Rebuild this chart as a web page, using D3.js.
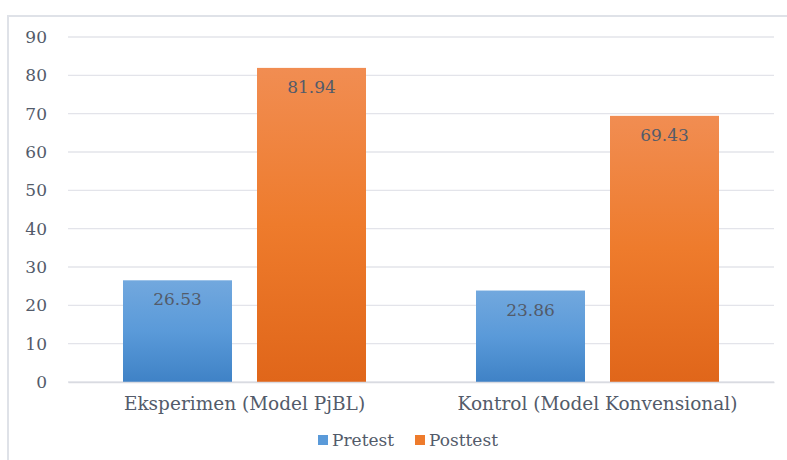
<!DOCTYPE html>
<html>
<head>
<meta charset="utf-8">
<script src="https://cdn.jsdelivr.net/npm/d3@7"></script>
<style>
  body { margin: 0; background: #fff; }
  text { font-family: "DejaVu Serif", serif; fill: #535b6a; }
</style>
</head>
<body>
<div id="chart"></div>
<script>
var categories = ["Eksperimen (Model PjBL)", "Kontrol (Model Konvensional)"];
var seriesNames = ["Pretest", "Posttest"];
var pretest = [26.53, 23.86];
var posttest = [81.94, 69.43];
var yTicks = [0, 10, 20, 30, 40, 50, 60, 70, 80, 90];

var svgWidth = 787, svgHeight = 460;
var margin = { top: 37, right: 13, bottom: 78, left: 68 };
var width = svgWidth - margin.left - margin.right;
var height = svgHeight - margin.top - margin.bottom;

var svg = d3.select("#chart").append("svg")
    .attr("width", svgWidth)
    .attr("height", svgHeight);

// gradients for the bars
var defs = svg.append("defs");
var gradColors = {
    Pretest: ["#72a8de", "#5a9ad9", "#3f82c6"],
    Posttest: ["#f18d52", "#ee7b2c", "#e0661a"]
};
seriesNames.forEach(function(s) {
    var g = defs.append("linearGradient")
        .attr("id", "grad" + s)
        .attr("x1", 0).attr("y1", 0).attr("x2", 0).attr("y2", 1);
    g.append("stop").attr("offset", "0%").attr("stop-color", gradColors[s][0]);
    g.append("stop").attr("offset", "50%").attr("stop-color", gradColors[s][1]);
    g.append("stop").attr("offset", "100%").attr("stop-color", gradColors[s][2]);
});

// frame
svg.append("rect")
    .attr("x", 8).attr("y", 16)
    .attr("width", svgWidth + 10).attr("height", svgHeight + 10)
    .attr("fill", "none")
    .attr("stroke", "#dfe2e8")
    .attr("stroke-width", 2);

var chartGroup = svg.append("g")
    .attr("transform", `translate(${margin.left}, ${margin.top})`);

var y = d3.scaleLinear().domain([0, 90]).range([height, 0]);

var x0 = d3.scaleBand()
    .domain(categories)
    .range([0, width])
    .paddingInner(0.3116)
    .paddingOuter(0.1558);

var x1 = d3.scaleBand()
    .domain(seriesNames)
    .range([0, x0.bandwidth()])
    .paddingInner(0.1866);

// gridlines
chartGroup.append("g")
    .selectAll("line")
    .data(yTicks)
    .enter()
    .append("line")
    .attr("x1", 0).attr("x2", width)
    .attr("y1", d => y(d)).attr("y2", d => y(d))
    .attr("stroke", "#e3e4ea")
    .attr("stroke-width", 1.3);

// y axis labels
var leftAxis = d3.axisLeft(y).tickValues(yTicks).tickSize(0).tickPadding(21);
var yAxis = chartGroup.append("g").call(leftAxis);
yAxis.select(".domain").remove();
yAxis.selectAll("text")
    .style("font-size", "17px")
    .style("font-family", "'DejaVu Serif', serif")
    .attr("fill", "#535b6a");

var data = categories.map(function(c, i) {
    return { category: c, values: [
        { series: "Pretest", value: pretest[i] },
        { series: "Posttest", value: posttest[i] }
    ] };
});

var groups = chartGroup.selectAll(".group")
    .data(data)
    .enter()
    .append("g")
    .attr("transform", d => `translate(${x0(d.category)}, 0)`);

groups.selectAll("rect")
    .data(d => d.values)
    .enter()
    .append("rect")
    .attr("x", d => x1(d.series))
    .attr("y", d => y(d.value))
    .attr("width", x1.bandwidth())
    .attr("height", d => height - y(d.value))
    .attr("fill", d => `url(#grad${d.series})`);

groups.selectAll(".val")
    .data(d => d.values)
    .enter()
    .append("text")
    .attr("x", d => x1(d.series) + x1.bandwidth() / 2)
    .attr("y", d => y(d.value) + 25)
    .attr("text-anchor", "middle")
    .style("font-size", "17px")
    .text(d => d.value.toFixed(2));

// x axis labels
var bottomAxis = d3.axisBottom(x0).tickSize(0).tickPadding(15);
var xAxis = chartGroup.append("g")
    .attr("transform", `translate(0, ${height})`)
    .call(bottomAxis);
xAxis.select(".domain")
    .attr("stroke", "#d9dbe1")
    .attr("stroke-width", 1.3);
xAxis.selectAll("text")
    .style("font-size", "18.5px")
    .style("font-family", "'DejaVu Serif', serif")
    .attr("fill", "#535b6a");

// legend
var legendX = [318, 415];
var legend = svg.append("g").attr("transform", "translate(0, 440)");
seriesNames.forEach(function(s, i) {
    legend.append("rect")
        .attr("x", legendX[i]).attr("y", -5)
        .attr("width", 10).attr("height", 10)
        .attr("fill", gradColors[s][1]);
    legend.append("text")
        .attr("x", legendX[i] + 14).attr("y", 6)
        .style("font-size", "17px")
        .text(s);
});
</script>
</body>
</html>
